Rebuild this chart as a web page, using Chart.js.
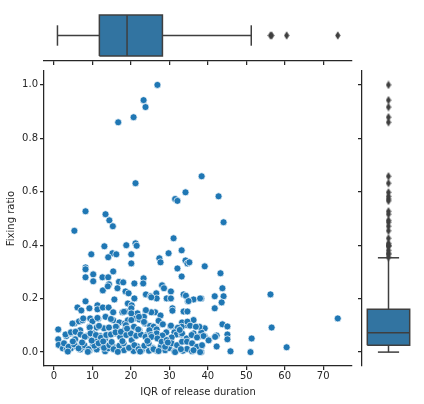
<!DOCTYPE html>
<html>
<head>
<meta charset="utf-8">
<script src="https://cdn.jsdelivr.net/npm/chart.js@4.4.1/dist/chart.umd.min.js"></script>
<style>
  html, body { margin: 0; padding: 0; background: #fff; }
  #wrap { position: relative; width: 424px; height: 404px; }
  #wrap canvas { position: absolute; left: 0; top: 0; }
</style>
</head>
<body>
<div id="wrap">
  <canvas id="mainChart" width="424" height="404"></canvas>
  <canvas id="topChart" width="424" height="404"></canvas>
  <canvas id="rightChart" width="424" height="404"></canvas>
</div>
<script>
// scatter values: IQR of release duration vs fixing ratio
const iqrDuration = [
    26.9, 23.3, 23.8, 20.7, 16.7, 21.2, 38.4, 34.2, 31.5, 32.1, 42.8, 8.2, 13.4, 14.4, 15.3, 5.3, 44.1,
    39.2, 43.3, 13.1, 18.8, 21.2, 21.5, 9.7, 15.2, 16.2, 14.1, 20.1, 20.1, 8.2, 8.2, 10.2, 15.4, 8.2, 12.6,
    14.1, 23.3, 31.1, 33.2, 29.8, 27.4, 27.7, 34.2, 34.7, 35.2, 32.1, 33.2,
    43.8, 41.8, 44.1, 38.3, 43.6, 41.8, 56.3, 10.2, 16.9, 18.0, 20.9, 23.2, 14.3, 28.1, 28.6, 18.6, 19.4,
    12.7, 14.0, 16.5, 23.9, 26.6, 30.4, 25.1, 29.3, 30.4, 20.9, 15.7, 8.2, 34.8, 36.3, 38.0, 19.2, 20.2,
    26.7, 25.3, 33.7, 34.3, 35.0,
    6.1, 9.2, 11.3, 11.3, 12.7, 14.2, 23.8, 26.3, 30.8, 33.7, 34.7, 7.1, 15.4, 17.8, 18.6, 20.1, 21.7,
    27.7, 11.5, 13.4, 5.3, 6.5, 7.4, 9.4, 10.0, 15.4, 17.0, 18.4, 19.2, 20.7, 22.2, 23.7, 28.1, 34.3,
    36.3, 73.8, 43.8, 30.8, 25.3, 27.2, 33.3, 34.7, 18.2, 20.1, 23.4, 23.9, 4.8, 7.6, 11.3, 14.8, 20.1,
    22.1, 23.4, 28.3, 18.7,
    45.1, 39.2, 56.6, 38.3, 45.1, 42.3, 39.2, 51.4, 45.1, 25.7, 26.6, 30.3, 31.5, 33.2, 37.8, 1.1, 9.2,
    11.1, 13.0, 14.3, 16.3, 20.7, 22.2, 9.3, 11.7, 16.1, 20.8, 25.0, 30.4, 32.2, 35.4, 36.9, 25.9, 26.7,
    29.2, 31.3, 31.9, 33.2, 36.3, 37.6, 38.9,
    1.1, 3.2, 4.3, 5.5, 6.1, 6.8, 8.5, 10.2, 10.7, 12.0, 13.3, 14.4, 15.9, 17.2, 18.3, 19.8, 20.2, 21.3,
    22.2, 24.1, 24.8, 25.5, 26.7, 28.2, 30.6, 33.3, 34.5, 35.8, 37.2, 40.3, 41.9,
    3.0, 4.4, 5.6, 6.9, 8.0, 9.5, 10.9, 12.2, 13.6, 14.8, 16.0, 17.4, 18.8, 20.0, 21.4, 22.6, 23.8, 25.2,
    25.4, 26.9,
    38.3, 42.3, 60.5, 38.3, 45.9, 51.1, 40.2,
    1.2, 2.3, 3.3, 4.4, 5.7, 6.8, 7.8, 9.2, 10.1, 11.1, 12.4, 13.3, 14.1, 15.3, 16.3, 17.2, 18.2, 19.6,
    20.7, 21.6, 22.8, 23.8, 24.7, 25.7, 26.7, 27.8, 28.9, 30.0, 31.3, 32.4, 33.5, 34.6, 35.9, 37.3,
    2.6, 3.8, 5.2, 6.4, 7.9, 9.0, 10.5, 11.6, 13.0, 14.4, 15.5, 17.0, 18.1, 19.5, 20.9, 22.0, 23.5, 24.6,
    28.0, 29.3, 30.6, 32.0, 33.3, 34.6, 35.9, 37.2, 38.5,
    25.9, 27.2, 28.9, 31.5, 33.0, 36.3, 38.0,
    4.9, 7.3, 9.8, 12.8, 15.0, 17.8, 19.0, 21.9, 24.3, 29.6, 32.7, 3.6, 8.8, 16.6, 22.4
];
const fixingRatio = [
    1.000, 0.943, 0.917, 0.879, 0.860, 0.632, 0.658, 0.598, 0.573, 0.566, 0.583, 0.527, 0.516, 0.493, 0.471, 0.454, 0.486,
    0.321, 0.295, 0.396, 0.400, 0.407, 0.398, 0.366, 0.370, 0.366, 0.355, 0.366, 0.332, 0.317, 0.310, 0.291, 0.302, 0.280, 0.280,
    0.280, 0.276, 0.426, 0.381, 0.370, 0.351, 0.336, 0.343, 0.332, 0.336, 0.313, 0.283,
    0.239, 0.209, 0.209, 0.201, 0.186, 0.164, 0.216, 0.265, 0.263, 0.261, 0.257, 0.257, 0.254, 0.250, 0.239, 0.227, 0.220,
    0.231, 0.246, 0.239, 0.216, 0.220, 0.227, 0.209, 0.201, 0.201, 0.201, 0.197, 0.190, 0.190, 0.197, 0.201, 0.182, 0.175,
    0.201, 0.205, 0.216, 0.211, 0.191,
    0.167, 0.164, 0.175, 0.160, 0.167, 0.167, 0.156, 0.149, 0.164, 0.152, 0.152, 0.156, 0.149, 0.149, 0.152, 0.164, 0.145,
    0.137, 0.126, 0.132, 0.107, 0.115, 0.119, 0.126, 0.115, 0.119, 0.111, 0.107, 0.119, 0.126, 0.122, 0.107, 0.104, 0.101,
    0.120, 0.126, 0.104, 0.155, 0.149, 0.117, 0.111, 0.114, 0.151, 0.145, 0.132, 0.157, 0.107, 0.126, 0.128, 0.124, 0.120,
    0.132, 0.113, 0.104, 0.101,
    0.096, 0.089, 0.092, 0.074, 0.066, 0.062, 0.059, 0.051, 0.048, 0.097, 0.089, 0.097, 0.082, 0.095, 0.095, 0.085, 0.095,
    0.092, 0.089, 0.092, 0.095, 0.092, 0.082, 0.092, 0.098, 0.095, 0.095, 0.098, 0.099, 0.091, 0.099, 0.095, 0.095, 0.085,
    0.074, 0.074, 0.066, 0.066, 0.070, 0.057, 0.060,
    0.048, 0.060, 0.070, 0.048, 0.075, 0.082, 0.060, 0.070, 0.045, 0.060, 0.050, 0.064, 0.070, 0.057, 0.082, 0.070, 0.045, 0.060,
    0.070, 0.064, 0.082, 0.060, 0.070, 0.062, 0.055, 0.070, 0.051, 0.064, 0.055, 0.045, 0.057,
    0.066, 0.074, 0.076, 0.066, 0.057, 0.070, 0.064, 0.054, 0.064, 0.066, 0.074, 0.076, 0.064, 0.070, 0.061, 0.066, 0.057, 0.064,
    0.057, 0.051,
    0.021, 0.021, 0.018, 0.000, 0.003, 0.000, 0.044,
    0.027, 0.014, 0.009, 0.014, 0.022, 0.010, 0.020, 0.005, 0.022, 0.010, 0.025, 0.003, 0.014, 0.022, 0.007, 0.020, 0.007, 0.015,
    0.004, 0.022, 0.007, 0.025, 0.005, 0.015, 0.005, 0.022, 0.007, 0.015, 0.003, 0.020, 0.005, 0.012, 0.003, 0.014,
    0.033, 0.020, 0.029, 0.014, 0.026, 0.011, 0.024, 0.033, 0.016, 0.026, 0.011, 0.024, 0.033, 0.016, 0.026, 0.011, 0.024, 0.033,
    0.039, 0.045, 0.033, 0.026, 0.039, 0.039, 0.033, 0.020, 0.026,
    0.011, 0.004, 0.020, 0.000, 0.011, 0.007, 0.000,
    0.040, 0.036, 0.043, 0.040, 0.038, 0.041, 0.088, 0.085, 0.042, 0.036, 0.083, 0.002, 0.001, 0.001, 0.002
];

// marginal box plots: [lower whisker, q1, median, q3, upper whisker]
const durationBox = [0.9, 11.8, 19.0, 28.2, 51.3];
const durationOutliers = [56.3, 56.6, 60.5, 73.8];
const ratioBox = [0.0, 0.026, 0.072, 0.160, 0.353];
const ratioOutliers = [1.000, 0.943, 0.917, 0.879, 0.860, 0.658, 0.632, 0.598, 0.583, 0.573, 0.566, 0.527,
    0.516, 0.493, 0.486, 0.471, 0.454, 0.426, 0.407, 0.400, 0.398, 0.396, 0.381, 0.370, 0.366, 0.355];

const xTicks = [0, 10, 20, 30, 40, 50, 60, 70];
const yTicks = [0, 0.2, 0.4, 0.6, 0.8, 1.0];
const xRange = [-2.6, 77.5];
const yRange = [-0.052, 1.052];

const ink = '#262626';
const dotBlue = '#1f77b4';
const boxBlue = '#3274a1';
const boxGray = '#3f3f3f';
const font = {family: 'DejaVu Sans', size: 10};

Chart.defaults.font.family = 'DejaVu Sans';
Chart.defaults.color = ink;

// thin diamond used by seaborn for fliers
function thinDiamond() {
    const c = document.createElement('canvas');
    c.width = 6;
    c.height = 9;
    const g = c.getContext('2d');
    g.fillStyle = boxGray;
    g.beginPath();
    g.moveTo(3, 0.3);
    g.lineTo(5.6, 4.5);
    g.lineTo(3, 8.7);
    g.lineTo(0.4, 4.5);
    g.closePath();
    g.fill();
    return c;
}
const flierMark = thinDiamond();

function seg(points, order) {
    return {
        type: 'line',
        data: points.map(p => ({x: p[0], y: p[1]})),
        borderColor: boxGray,
        borderWidth: 1.5,
        pointRadius: 0,
        fill: false,
        tension: 0,
        order: order || 0
    };
}

function fixedTicks(values) {
    return function (scale) {
        scale.ticks = values.map(v => ({value: v}));
    };
}

const baseOptions = {
    responsive: false,
    animation: false,
    events: [],
    plugins: {legend: {display: false}, tooltip: {enabled: false}}
};

// main scatter
new Chart(document.getElementById('mainChart'), {
    type: 'scatter',
    data: {
        datasets: [{
            data: iqrDuration.map((x, i) => ({x: x, y: fixingRatio[i]})),
            backgroundColor: dotBlue,
            borderColor: '#ffffff',
            borderWidth: 0.7,
            pointRadius: 3.5,
            pointHoverRadius: 3.5
        }]
    },
    options: {
        ...baseOptions,
        layout: {padding: {left: 0, top: 71, right: 72, bottom: 0}},
        scales: {
            x: {
                type: 'linear', min: xRange[0], max: xRange[1],
                afterBuildTicks: fixedTicks(xTicks),
                afterFit: s => { s.height = 38; },
                grid: {drawOnChartArea: false, tickLength: 4, color: ink, lineWidth: 1.25},
                border: {color: ink, width: 1.25},
                ticks: {padding: 0, color: ink, font: font, maxRotation: 0, callback: v => String(v)},
                title: {display: true, text: 'IQR of release duration', color: ink, font: font, padding: {top: 0, bottom: 6}}
            },
            y: {
                type: 'linear', min: yRange[0], max: yRange[1],
                afterBuildTicks: fixedTicks(yTicks),
                afterFit: s => { s.width = 44; },
                grid: {drawOnChartArea: false, tickLength: 4, color: ink, lineWidth: 1.25},
                border: {color: ink, width: 1.25},
                ticks: {padding: 2, color: ink, font: font, callback: v => v.toFixed(1)},
                title: {display: true, text: 'Fixing ratio', color: ink, font: font, padding: {top: 5, bottom: 0}}
            }
        }
    }
});

// top marginal: box plot of the duration
const [dLo, dQ1, dMed, dQ3, dHi] = durationBox;
new Chart(document.getElementById('topChart'), {
    type: 'line',
    data: {
        datasets: [
            {type: 'line', data: [{x: dQ1, y: 0.4}, {x: dQ3, y: 0.4}], fill: {value: -0.4},
                backgroundColor: boxBlue, borderColor: 'rgba(0,0,0,0)', borderWidth: 0, pointRadius: 0, order: 5},
            seg([[dQ1, -0.4], [dQ3, -0.4], [dQ3, 0.4], [dQ1, 0.4], [dQ1, -0.4]]),
            seg([[dMed, -0.4], [dMed, 0.4]]),
            seg([[dLo, 0], [dQ1, 0]], 1),
            seg([[dQ3, 0], [dHi, 0]], 1),
            seg([[dLo, -0.2], [dLo, 0.2]]),
            seg([[dHi, -0.2], [dHi, 0.2]]),
            {type: 'scatter', data: durationOutliers.map(v => ({x: v, y: 0})),
                pointStyle: flierMark, pointRadius: 4, showLine: false}
        ]
    },
    options: {
        ...baseOptions,
        layout: {padding: {left: 44, top: 10, right: 72, bottom: 335}},
        scales: {
            x: {
                type: 'linear', min: xRange[0], max: xRange[1],
                afterBuildTicks: fixedTicks(xTicks),
                afterFit: s => { s.height = 8; },
                grid: {drawOnChartArea: false, tickLength: 4, color: ink, lineWidth: 1.25},
                border: {color: ink, width: 1.25},
                ticks: {display: false}
            },
            y: {type: 'linear', min: -0.5, max: 0.5, display: false}
        }
    }
});

// right marginal: box plot of the fixing ratio
const [rLo, rQ1, rMed, rQ3, rHi] = ratioBox;
new Chart(document.getElementById('rightChart'), {
    type: 'line',
    data: {
        datasets: [
            {type: 'line', data: [{x: -0.4, y: rQ3}, {x: 0.4, y: rQ3}], fill: {value: rQ1},
                backgroundColor: boxBlue, borderColor: 'rgba(0,0,0,0)', borderWidth: 0, pointRadius: 0, order: 5},
            seg([[-0.4, rQ1], [0.4, rQ1], [0.4, rQ3], [-0.4, rQ3], [-0.4, rQ1]]),
            seg([[-0.4, rMed], [0.4, rMed]]),
            seg([[0, rLo], [0, rQ1]], 1),
            seg([[0, rQ3], [0, rHi]], 1),
            seg([[-0.2, rLo], [0.2, rLo]]),
            seg([[-0.2, rHi], [0.2, rHi]]),
            {type: 'scatter', data: ratioOutliers.map(v => ({x: 0, y: v})),
                pointStyle: flierMark, pointRadius: 4, showLine: false}
        ]
    },
    options: {
        ...baseOptions,
        layout: {padding: {left: 355, top: 71, right: 9, bottom: 38}},
        scales: {
            x: {type: 'linear', min: -0.5, max: 0.5, display: false},
            y: {
                type: 'linear', min: yRange[0], max: yRange[1],
                afterBuildTicks: fixedTicks(yTicks),
                afterFit: s => { s.width = 7; },
                grid: {drawOnChartArea: false, tickLength: 4, color: ink, lineWidth: 1.25},
                border: {color: ink, width: 1.25},
                ticks: {display: false}
            }
        }
    }
});
</script>
</body>
</html>
